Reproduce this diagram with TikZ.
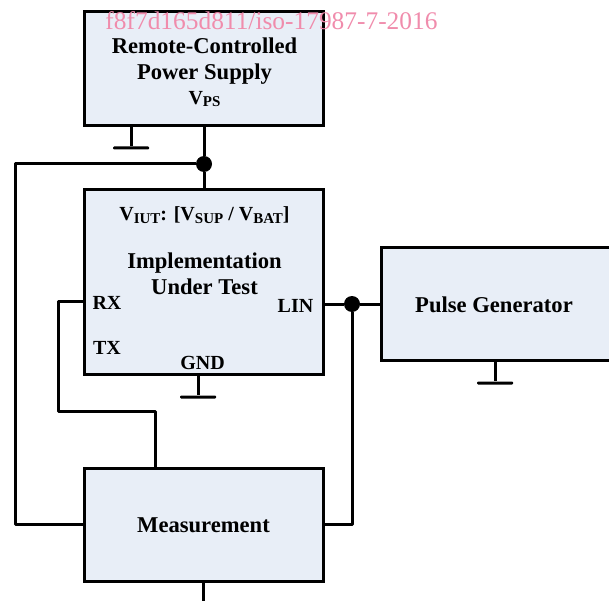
\documentclass[tikz,border=0pt]{standalone}
\usepackage{fontspec}
\setmainfont{Liberation Serif}
\usepackage{xcolor}
\usepackage{tikz}
\usetikzlibrary{positioning}
\definecolor{blockfill}{HTML}{E8EEF7}
\definecolor{stampink}{HTML}{F08CAC}
\newcommand{\vsub}[1]{V{\fontsize{15}{15}\selectfont\raisebox{-2.5pt}{#1}}}

\begin{document}
\begin{tikzpicture}[
  x=1pt,y=-1pt,
  block/.style={draw,line width=3pt,fill=blockfill,minimum width=239pt,inner sep=0pt},
  blocktext/.style={inner sep=0pt,font=\fontsize{22.6}{25.5}\selectfont\bfseries,align=center},
  tag/.style={inner sep=0pt,font=\fontsize{20}{25.5}\selectfont\bfseries,align=center},
  wire/.style={draw,line width=3pt,line join=round},
  joint/.style={circle,fill=black,inner sep=0pt,minimum size=16pt},
  gndbar/.style={fill=black,inner sep=0pt,minimum width=36pt,minimum height=3pt,rounded corners=1pt}
]
\clip (0,0) rectangle (609,601);
% blocks
\node[block,minimum height=114pt] (supply) at (204,69) {};
\node[block,minimum height=184pt] (iut) at (204,282) {};
\node[block,minimum height=113pt,minimum width=260pt,anchor=west] (pulse) at (380,304) {};
\node[block,minimum height=113pt] (meas) at (204,524.5) {};
% labels inside blocks
\node[blocktext] (supplyname) at (204.5,61) {Remote-Controlled\\Power Supply};
\node[tag] (supplyvolt) at (204.5,99) {\vsub{PS}};
\node[tag] (iutvolt) at (204.5,215) {\vsub{IUT}: [\vsub{SUP} / \vsub{BAT}]};
\node[blocktext] (iutname) at (204.5,274) {Implementation\\Under Test};
\node[tag] (rx) at (107,303) {RX};
\node[tag] (tx) at (107,348) {TX};
\node[tag] (lin) at (295.5,306) {LIN};
\node[tag] (gnd) at (202.5,363) {GND};
\node[blocktext] (pulsename) at (494,305) {Pulse Generator};
\node[blocktext] (measname) at (203.5,525) {Measurement};
% junctions
\node[joint] (vjoin) at (204,164) {};
\node[joint] (linjoin) at (352,304) {};
% grounds
\node[gndbar] (supplygnd) at (131,148) {};
\node[gndbar] (iutgnd) at (198,397) {};
\node[gndbar] (pulsegnd) at (495,383) {};
% corner points
\coordinate (vleft) at (15,164);
\coordinate (rxleft) at (58,301);
\coordinate (rxlow) at (58,411);
\coordinate (measup) at (155,411);
\coordinate (linlow) at (352,524.5);
\coordinate (measout) at (203,601);
% connectors
\draw[wire] (supply) -- (vjoin);
\draw[wire] (vjoin) -- (iut);
\draw[wire] (vjoin) -- (vleft) |- (meas.west);
\draw[wire] (iut.west |- rxleft) -- (rxleft) -- (rxlow) -- (measup) -- (measup |- meas.north);
\draw[wire] (iut.east |- linjoin) -- (linjoin);
\draw[wire] (linjoin) -- (pulse.west);
\draw[wire] (linjoin) -- (linlow) -- (meas.east);
\draw[wire] (measout |- meas.south) -- (measout);
\draw[wire] (supplygnd |- supply.south) -- (supplygnd);
\draw[wire] (iutgnd |- iut.south) -- (iutgnd);
\draw[wire] (pulsegnd |- pulse.south) -- (pulsegnd);
% stamp
\node[inner sep=0pt,text=stampink,font=\fontsize{25.4}{25.4}\selectfont] (stamp) at (271.5,21) {f8f7d165d811/iso-17987-7-2016};
\end{tikzpicture}
\end{document}
